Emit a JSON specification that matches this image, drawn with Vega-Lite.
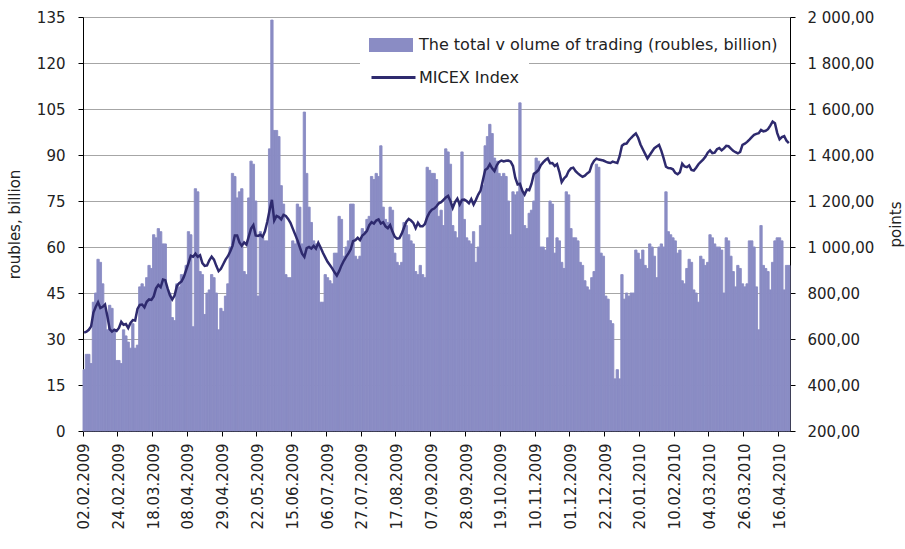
{
"$schema": "https://vega.github.io/schema/vega-lite/v6.json",
"width": 707, "height": 414,
"autosize": {"type": "none"},
"padding": {"left": 83, "top": 17, "right": 115, "bottom": 118},
"background": "white",
"config": {"view": {"stroke": null}, "font": "DejaVu Sans",
  "axis": {"domainColor": "#000", "tickColor": "#000", "labelColor": "#222", "titleColor": "#222", "labelFont": "DejaVu Sans", "titleFont": "DejaVu Sans", "labelFontSize": 15, "titleFontSize": 15, "titleFontWeight": "normal", "tickSize": 5},
  "legend": {"labelFont": "DejaVu Sans", "labelFontSize": 16, "labelColor": "#222", "labelLimit": 0, "fillColor": "white", "padding": 10, "symbolOffset": 11, "symbolSize": 484}},
"data": {"values": [
{"i":0,"v":20,"m":628},{"i":1,"v":25,"m":632},{"i":2,"v":25,"m":640},{"i":3,"v":22,"m":655},{"i":4,"v":42,"m":715},{"i":5,"v":45,"m":740},{"i":6,"v":56,"m":760},{"i":7,"v":55,"m":735},{"i":8,"v":48,"m":740},{"i":9,"v":40,"m":750},
{"i":10,"v":33,"m":700},{"i":11,"v":41,"m":643},{"i":12,"v":40,"m":632},{"i":13,"v":33,"m":640},{"i":14,"v":23,"m":635},{"i":15,"v":23,"m":648},{"i":16,"v":22,"m":675},{"i":17,"v":33,"m":662},{"i":18,"v":31,"m":665},{"i":19,"v":29,"m":648},
{"i":20,"v":27,"m":670},{"i":21,"v":35,"m":682},{"i":22,"v":27,"m":680},{"i":23,"v":28,"m":731},{"i":24,"v":47,"m":748},{"i":25,"v":48,"m":750},{"i":26,"v":47,"m":738},{"i":27,"v":50,"m":762},{"i":28,"v":54,"m":772},{"i":29,"v":53,"m":770},
{"i":30,"v":64,"m":785},{"i":31,"v":63,"m":820},{"i":32,"v":66,"m":835},{"i":33,"v":65,"m":825},{"i":34,"v":61,"m":858},{"i":35,"v":61,"m":855},{"i":36,"v":46,"m":820},{"i":37,"v":45,"m":790},{"i":38,"v":37,"m":772},{"i":39,"v":36,"m":789},
{"i":40,"v":48,"m":830},{"i":41,"v":47,"m":843},{"i":42,"v":51,"m":850},{"i":43,"v":50,"m":870},{"i":44,"v":54,"m":900},{"i":45,"v":65,"m":930},{"i":46,"v":64,"m":962},{"i":47,"v":34,"m":958},{"i":48,"v":79,"m":971},{"i":49,"v":78,"m":957},
{"i":50,"v":52,"m":964},{"i":51,"v":51,"m":930},{"i":52,"v":38,"m":918},{"i":53,"v":45,"m":920},{"i":54,"v":46,"m":942},{"i":55,"v":51,"m":958},{"i":56,"v":50,"m":945},{"i":57,"v":45,"m":918},{"i":58,"v":33,"m":895},{"i":59,"v":40,"m":905},
{"i":60,"v":39,"m":925},{"i":61,"v":44,"m":945},{"i":62,"v":48,"m":960},{"i":63,"v":60,"m":980},{"i":64,"v":84,"m":1005},{"i":65,"v":83,"m":1050},{"i":66,"v":76,"m":1050},{"i":67,"v":78,"m":1020},{"i":68,"v":79,"m":1005},{"i":69,"v":52,"m":1020},
{"i":70,"v":51,"m":1010},{"i":71,"v":76,"m":1045},{"i":72,"v":88,"m":1080},{"i":73,"v":87,"m":1095},{"i":74,"v":75,"m":1050},{"i":75,"v":44,"m":1048},{"i":76,"v":65,"m":1053},{"i":77,"v":63,"m":1045},{"i":78,"v":62,"m":1068},{"i":79,"v":62,"m":1110},
{"i":80,"v":92,"m":1160},{"i":81,"v":134,"m":1205},{"i":82,"v":98,"m":1115},{"i":83,"v":98,"m":1135},{"i":84,"v":96,"m":1130},{"i":85,"v":80,"m":1120},{"i":86,"v":74,"m":1140},{"i":87,"v":51,"m":1135},{"i":88,"v":50,"m":1122},{"i":89,"v":50,"m":1105},
{"i":90,"v":62,"m":1080},{"i":91,"v":61,"m":1055},{"i":92,"v":74,"m":1030},{"i":93,"v":73,"m":1000},{"i":94,"v":61,"m":971},{"i":95,"v":104,"m":957},{"i":96,"v":84,"m":995},{"i":97,"v":73,"m":1000},{"i":98,"v":68,"m":993},{"i":99,"v":62,"m":1005},
{"i":100,"v":61,"m":993},{"i":101,"v":61,"m":1018},{"i":102,"v":42,"m":998},{"i":103,"v":42,"m":975},{"i":104,"v":51,"m":955},{"i":105,"v":50,"m":936},{"i":106,"v":49,"m":922},{"i":107,"v":48,"m":907},{"i":108,"v":58,"m":890},{"i":109,"v":58,"m":876},
{"i":110,"v":70,"m":895},{"i":111,"v":69,"m":920},{"i":112,"v":57,"m":940},{"i":113,"v":60,"m":957},{"i":114,"v":62,"m":972},{"i":115,"v":74,"m":990},{"i":116,"v":74,"m":1025},{"i":117,"v":57,"m":1030},{"i":118,"v":56,"m":1040},{"i":119,"v":57,"m":1030},
{"i":120,"v":66,"m":1050},{"i":121,"v":65,"m":1058},{"i":122,"v":69,"m":1070},{"i":123,"v":70,"m":1095},{"i":124,"v":83,"m":1108},{"i":125,"v":82,"m":1102},{"i":126,"v":84,"m":1115},{"i":127,"v":83,"m":1120},{"i":128,"v":93,"m":1102},{"i":129,"v":73,"m":1108},
{"i":130,"v":69,"m":1090},{"i":131,"v":68,"m":1082},{"i":132,"v":73,"m":1095},{"i":133,"v":72,"m":1067},{"i":134,"v":58,"m":1045},{"i":135,"v":55,"m":1036},{"i":136,"v":54,"m":1038},{"i":137,"v":55,"m":1058},{"i":138,"v":68,"m":1085},{"i":139,"v":67,"m":1110},
{"i":140,"v":64,"m":1122},{"i":141,"v":62,"m":1115},{"i":142,"v":61,"m":1105},{"i":143,"v":52,"m":1082},{"i":144,"v":51,"m":1105},{"i":145,"v":54,"m":1090},{"i":146,"v":51,"m":1090},{"i":147,"v":50,"m":1100},{"i":148,"v":86,"m":1130},{"i":149,"v":85,"m":1150},
{"i":150,"v":84,"m":1162},{"i":151,"v":84,"m":1167},{"i":152,"v":82,"m":1177},{"i":153,"v":70,"m":1190},{"i":154,"v":72,"m":1195},{"i":155,"v":67,"m":1205},{"i":156,"v":92,"m":1215},{"i":157,"v":91,"m":1222},{"i":158,"v":87,"m":1200},{"i":159,"v":67,"m":1170},
{"i":160,"v":65,"m":1195},{"i":161,"v":63,"m":1210},{"i":162,"v":75,"m":1185},{"i":163,"v":91,"m":1205},{"i":164,"v":69,"m":1206},{"i":165,"v":63,"m":1200},{"i":166,"v":62,"m":1190},{"i":167,"v":61,"m":1208},{"i":168,"v":65,"m":1185},{"i":169,"v":55,"m":1205},
{"i":170,"v":60,"m":1228},{"i":171,"v":67,"m":1245},{"i":172,"v":80,"m":1290},{"i":173,"v":93,"m":1335},{"i":174,"v":96,"m":1342},{"i":175,"v":100,"m":1360},{"i":176,"v":97,"m":1342},{"i":177,"v":89,"m":1330},{"i":178,"v":88,"m":1355},{"i":179,"v":84,"m":1370},
{"i":180,"v":83,"m":1376},{"i":181,"v":84,"m":1372},{"i":182,"v":83,"m":1375},{"i":183,"v":75,"m":1376},{"i":184,"v":64,"m":1371},{"i":185,"v":78,"m":1352},{"i":186,"v":77,"m":1300},{"i":187,"v":78,"m":1272},{"i":188,"v":107,"m":1275},{"i":189,"v":78,"m":1245},
{"i":190,"v":67,"m":1228},{"i":191,"v":66,"m":1250},{"i":192,"v":71,"m":1247},{"i":193,"v":72,"m":1275},{"i":194,"v":75,"m":1318},{"i":195,"v":89,"m":1325},{"i":196,"v":88,"m":1335},{"i":197,"v":60,"m":1356},{"i":198,"v":60,"m":1368},{"i":199,"v":59,"m":1378},
{"i":200,"v":63,"m":1385},{"i":201,"v":75,"m":1364},{"i":202,"v":74,"m":1365},{"i":203,"v":58,"m":1352},{"i":204,"v":63,"m":1360},{"i":205,"v":62,"m":1327},{"i":206,"v":55,"m":1282},{"i":207,"v":53,"m":1298},{"i":208,"v":78,"m":1308},{"i":209,"v":77,"m":1330},
{"i":210,"v":66,"m":1342},{"i":211,"v":63,"m":1345},{"i":212,"v":63,"m":1330},{"i":213,"v":62,"m":1320},{"i":214,"v":55,"m":1312},{"i":215,"v":54,"m":1305},{"i":216,"v":49,"m":1310},{"i":217,"v":47,"m":1320},{"i":218,"v":46,"m":1327},{"i":219,"v":50,"m":1358},
{"i":220,"v":52,"m":1375},{"i":221,"v":87,"m":1384},{"i":222,"v":86,"m":1380},{"i":223,"v":58,"m":1378},{"i":224,"v":57,"m":1376},{"i":225,"v":44,"m":1371},{"i":226,"v":43,"m":1367},{"i":227,"v":36,"m":1365},{"i":228,"v":35,"m":1371},{"i":229,"v":17,"m":1368},
{"i":230,"v":20,"m":1365},{"i":231,"v":17,"m":1395},{"i":232,"v":51,"m":1440},{"i":233,"v":43,"m":1448},{"i":234,"v":45,"m":1450},{"i":235,"v":44,"m":1464},{"i":236,"v":45,"m":1475},{"i":237,"v":45,"m":1485},{"i":238,"v":59,"m":1494},{"i":239,"v":58,"m":1475},
{"i":240,"v":56,"m":1446},{"i":241,"v":59,"m":1425},{"i":242,"v":54,"m":1405},{"i":243,"v":53,"m":1385},{"i":244,"v":61,"m":1400},{"i":245,"v":60,"m":1415},{"i":246,"v":57,"m":1430},{"i":247,"v":50,"m":1437},{"i":248,"v":60,"m":1444},{"i":249,"v":61,"m":1418},
{"i":250,"v":60,"m":1385},{"i":251,"v":78,"m":1349},{"i":252,"v":65,"m":1343},{"i":253,"v":64,"m":1342},{"i":254,"v":63,"m":1338},{"i":255,"v":62,"m":1322},{"i":256,"v":58,"m":1316},{"i":257,"v":59,"m":1325},{"i":258,"v":49,"m":1362},{"i":259,"v":48,"m":1350},
{"i":260,"v":53,"m":1347},{"i":261,"v":56,"m":1355},{"i":262,"v":55,"m":1335},{"i":263,"v":46,"m":1332},{"i":264,"v":45,"m":1345},{"i":265,"v":42,"m":1360},{"i":266,"v":57,"m":1370},{"i":267,"v":56,"m":1380},{"i":268,"v":54,"m":1392},{"i":269,"v":55,"m":1410},
{"i":270,"v":64,"m":1420},{"i":271,"v":63,"m":1408},{"i":272,"v":61,"m":1410},{"i":273,"v":60,"m":1425},{"i":274,"v":60,"m":1430},{"i":275,"v":59,"m":1420},{"i":276,"v":45,"m":1429},{"i":277,"v":63,"m":1440},{"i":278,"v":62,"m":1438},{"i":279,"v":57,"m":1428},
{"i":280,"v":52,"m":1418},{"i":281,"v":47,"m":1412},{"i":282,"v":54,"m":1407},{"i":283,"v":53,"m":1413},{"i":284,"v":48,"m":1444},{"i":285,"v":47,"m":1449},{"i":286,"v":48,"m":1457},{"i":287,"v":62,"m":1467},{"i":288,"v":62,"m":1478},{"i":289,"v":60,"m":1488},
{"i":290,"v":47,"m":1492},{"i":291,"v":33,"m":1495},{"i":292,"v":67,"m":1509},{"i":293,"v":54,"m":1503},{"i":294,"v":53,"m":1505},{"i":295,"v":52,"m":1512},{"i":296,"v":46,"m":1528},{"i":297,"v":55,"m":1545},{"i":298,"v":62,"m":1538},{"i":299,"v":63,"m":1495},
{"i":300,"v":63,"m":1468},{"i":301,"v":62,"m":1478},{"i":302,"v":46,"m":1482},{"i":303,"v":54,"m":1462},{"i":304,"v":54,"m":1452}
]},
"encoding": {
  "x": {"field": "i", "type": "ordinal", "scale": {"paddingInner": 0, "paddingOuter": 0},
    "axis": {"title": null, "values": [0,15,30,45,60,75,90,105,120,135,150,165,180,195,210,225,240,255,270,285,300], "bandPosition": 0, "labelAngle": -90, "labelPadding": 7, "labelAlign": "right", "labelBaseline": "middle",
      "labelExpr": "['02.02.2009','24.02.2009','18.03.2009','08.04.2009','29.04.2009','22.05.2009','15.06.2009','06.07.2009','27.07.2009','17.08.2009','07.09.2009','28.09.2009','19.10.2009','10.11.2009','01.12.2009','22.12.2009','20.01.2010','10.02.2010','04.03.2010','26.03.2010','16.04.2010'][datum.value / 15]"}}
},
"layer": [
  {"mark": {"type": "bar", "stroke": "#8A8CC4", "strokeWidth": 0.9},
   "encoding": {
     "y": {"field": "v", "type": "quantitative", "scale": {"domain": [0, 135], "nice": false},
       "axis": {"values": [0,15,30,45,60,75,90,105,120,135], "grid": true, "gridColor": "#a6a6a6", "gridWidth": 1, "labelPadding": 13, "title": "roubles, billion", "titlePadding": 14}},
     "fill": {"datum": "The total v olume of trading (roubles, billion)", "type": "nominal",
       "scale": {"range": ["#8A8CC4"]},
       "legend": {"orient": "none", "legendX": 276, "legendY": 7, "title": null, "symbolType": "M-2,-0.64H2V0.64H-2Z", "symbolStrokeWidth": 0, "symbolOpacity": 1, "labelOffset": 17}}
   }},
  {"mark": {"type": "line", "strokeWidth": 2.5},
   "encoding": {
     "y": {"field": "m", "type": "quantitative", "scale": {"domain": [200, 2000], "nice": false},
       "axis": {"orient": "right", "values": [200,400,600,800,1000,1200,1400,1600,1800,2000], "grid": false, "labelPadding": 12, "title": "points", "titleAngle": -90, "titlePadding": 30,
         "labelExpr": "replace(replace(format(datum.value, ',.2f'), ',', ' '), '.', ',')"}},
     "stroke": {"datum": "MICEX Index", "type": "nominal", "scale": {"range": ["#2E2A6E"]},
       "legend": {"orient": "none", "legendX": 277, "legendY": 38, "title": null, "symbolType": "M-2,0H2", "symbolStrokeWidth": 3, "symbolOpacity": 1, "labelOffset": 13}}
   }}
],
"resolve": {"scale": {"y": "independent"}}
}
